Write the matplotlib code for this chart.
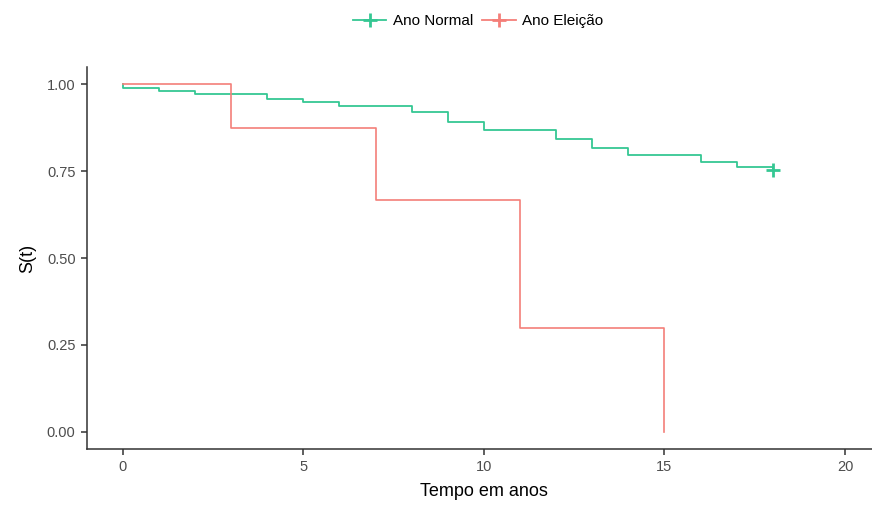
import matplotlib
matplotlib.use("Agg")
import matplotlib.pyplot as plt
from matplotlib.lines import Line2D

plt.rcParams['font.family'] = ['Liberation Sans', 'DejaVu Sans']

# Kaplan-Meier estimates per group
normal_time = [0, 0, 1, 2, 4, 5, 6, 8, 9, 10, 12, 13, 14, 16, 17, 18]
normal_surv = [1.0, 0.990, 0.981, 0.973, 0.957, 0.949, 0.936, 0.920, 0.891,
               0.867, 0.843, 0.815, 0.795, 0.775, 0.762, 0.752]
normal_censor_time = [18]
normal_censor_surv = [0.752]

eleicao_time = [0, 3, 7, 11, 15]
eleicao_surv = [1.0, 0.875, 0.667, 0.300, 0.0]

x_ticks = [0, 5, 10, 15, 20]
y_ticks = [0.0, 0.25, 0.50, 0.75, 1.00]
y_labels = ["0.00", "0.25", "0.50", "0.75", "1.00"]

GREEN = "#35C793"
RED = "#F47F79"
AXIS = "#333333"
TICKTXT = "#4D4D4D"

fig = plt.figure(figsize=(8.72, 5.07), dpi=100)
ax = fig.add_axes([0.0994, 0.1138, 0.911, 0.7546])

ax.plot(normal_time, normal_surv, drawstyle="steps-post", color=GREEN, lw=1.3)
ax.plot(normal_censor_time, normal_censor_surv, ls="none", marker="+",
        ms=10, mew=2, color=GREEN)
ax.plot(eleicao_time, eleicao_surv, drawstyle="steps-post", color=RED, lw=1.2)

ax.set_xlim(-1, 21)
ax.set_ylim(-0.05, 1.05)
ax.set_xticks(x_ticks)
ax.set_yticks(y_ticks)
ax.set_yticklabels(y_labels)

for side in ("top", "right"):
    ax.spines[side].set_visible(False)
for side in ("left", "bottom"):
    ax.spines[side].set_color(AXIS)
    ax.spines[side].set_linewidth(1.1)
ax.tick_params(colors=AXIS, labelcolor=TICKTXT, labelsize=10.5, length=4,
               width=1.1, pad=4)

ax.set_xlabel("Tempo em anos", fontsize=13, color="black", labelpad=6)
ax.set_ylabel("S(t)", fontsize=13, color="black", labelpad=8)

handles = [
    Line2D([], [], color=GREEN, lw=1.3, marker="+", ms=10, mew=2),
    Line2D([], [], color=RED, lw=1.3, marker="+", ms=10, mew=2),
]
fig.legend(handles, ["Ano Normal", "Ano Eleição"], loc="center",
           bbox_to_anchor=(0.548, 0.958), ncol=2, frameon=False,
           fontsize=11, handlelength=2.2, handletextpad=0.4,
           columnspacing=0.6)

fig.savefig("out.png", dpi=100)
